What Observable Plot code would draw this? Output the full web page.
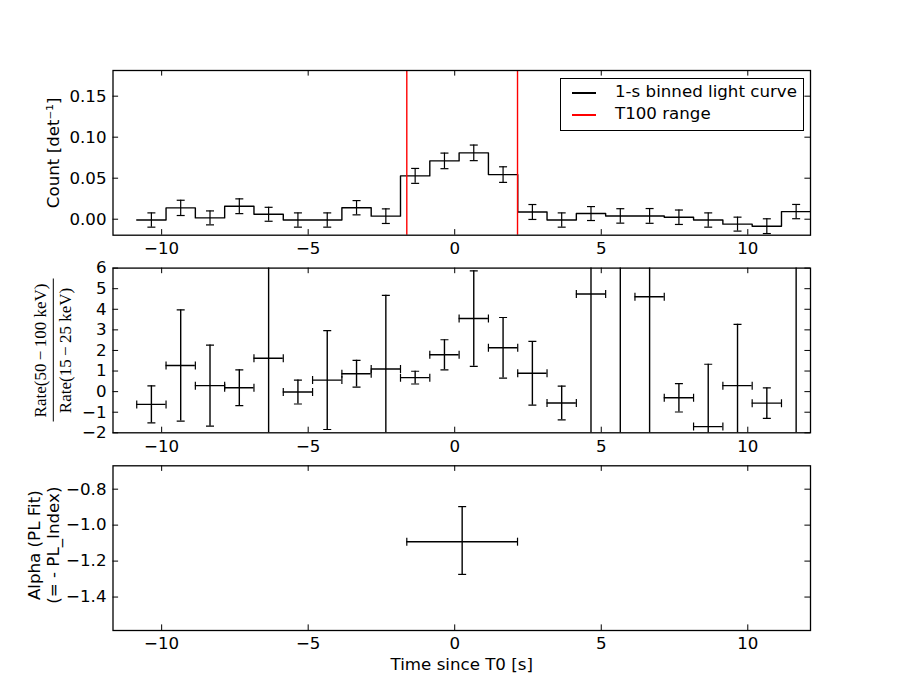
<!DOCTYPE html>
<html><head><meta charset="utf-8">
<script src="https://cdn.jsdelivr.net/npm/d3@7"></script>
<script src="https://cdn.jsdelivr.net/npm/@observablehq/plot@0.6"></script>
<style>
body{margin:0;background:#fff;}
#wrap{position:relative;width:900px;height:700px;overflow:hidden;background:#fff;}
#wrap svg{position:absolute;left:0;top:0;}
.legend{position:absolute;left:560px;top:78px;width:242px;height:51px;border:1px solid #000;background:#fff;font-family:"DejaVu Sans";font-size:16.67px;}
.legend .ln{position:absolute;left:11px;width:24px;height:1.5px;}
.legend .tx{position:absolute;left:54px;line-height:20px;white-space:nowrap;}
</style></head><body><div id="wrap"></div>
<script>
// ---- data ----
const binCenter = [-10.35, -9.35, -8.35, -7.35, -6.35, -5.35, -4.35, -3.35, -2.35, -1.35, -0.35, 0.65,
                   1.65, 2.65, 3.65, 4.65, 5.65, 6.65, 7.65, 8.65, 9.65, 10.65, 11.65];
const binWidth = 1;
const countRate = [-0.001, 0.0138, 0.0016, 0.0158, 0.006, -0.001, -0.001, 0.014, 0.0037, 0.0528, 0.0711, 0.0809,
                   0.0544, 0.0088, -0.001, 0.0069, 0.004, 0.004, 0.0024, -0.001, -0.006, -0.0085, 0.0093];
const countErr = [0.0087, 0.0093, 0.0085, 0.0090, 0.0085, 0.0087, 0.0087, 0.0087, 0.0089, 0.0091, 0.0095, 0.0095,
                  0.0095, 0.0091, 0.0087, 0.0085, 0.0088, 0.0090, 0.0088, 0.0087, 0.0085, 0.0090, 0.0087];
const hardRatio = [-0.62, 1.27, 0.29, 0.19, 1.62, -0.02, 0.56, 0.87, 1.10, 0.68, 1.79, 3.55,
                   2.13, 0.89, -0.55, 4.74, 9.0, 4.61, -0.30, -1.70, 0.29, -0.56, -4.5];
const hardErr = [0.90, 2.70, 1.97, 0.87, 6.5, 0.58, 2.40, 0.65, 3.58, 0.31, 0.73, 2.32,
                 1.47, 1.55, 0.82, 8.0, 12.0, 8.0, 0.69, 3.03, 2.98, 0.74, 16.0];
const t100 = [-1.635, 2.143];
const alphaT = [0.254];
const alphaVal = [-1.092];
const alphaLo = [-1.274];
const alphaHi = [-0.897];
const xDomain = [-11.66, 12.14];
const xTicks = [-10, -5, 0, 5, 10];
const countTicks = [0, 0.05, 0.10, 0.15];
const hrTicks = [-2, -1, 0, 1, 2, 3, 4, 5, 6];
const alphaTicks = [-1.4, -1.2, -1.0, -0.8];

// ---- layout ----
const W = 900, H = 700, ML = 112.5, MR = 90;
const FW = W - ML - MR;
const PH = 164.7;
const tops = [70, 267.6, 465.3];
const TL = 5.6; // inward tick length
const fs = "16.67px";
const idx = binCenter.map((_, i) => i);

const hCap = {draw(ctx, size) { const r = Math.sqrt(size / Math.PI); ctx.moveTo(-r, 0); ctx.lineTo(r, 0); }};
const vCap = {draw(ctx, size) { const r = Math.sqrt(size / Math.PI); ctx.moveTo(0, -r); ctx.lineTo(0, r); }};

function tickMarks(yt) {
  return [
    Plot.ruleY(yt, {y: d => d, insetRight: FW - TL, stroke: "black", strokeWidth: 1}),
    Plot.ruleY(yt, {y: d => d, insetLeft: FW - TL, stroke: "black", strokeWidth: 1}),
    Plot.ruleX(xTicks, {x: d => d, insetTop: PH - TL, stroke: "black", strokeWidth: 1}),
    Plot.ruleX(xTicks, {x: d => d, insetBottom: PH - TL, stroke: "black", strokeWidth: 1})
  ];
}

function panel(k, yDomain, yTicks, yFmt, marks) {
  return Plot.plot({
    width: W, height: H,
    marginLeft: ML, marginRight: MR,
    marginTop: tops[k], marginBottom: H - tops[k] - PH,
    style: {background: "transparent", fontFamily: "DejaVu Sans", fontSize: fs, overflow: "visible", color: "black"},
    x: {domain: xDomain, ticks: xTicks, tickSize: 0, tickPadding: 7, tickFormat: d3.format("d"), label: null},
    y: {domain: yDomain, ticks: yTicks, tickSize: 0, tickPadding: 6.5, tickFormat: yFmt, label: null},
    marks: [...marks, ...tickMarks(yTicks), Plot.frame({stroke: "black", strokeWidth: 1.3})]
  });
}

const ylab = {frameAnchor: "left", textAnchor: "middle", lineAnchor: "middle", rotate: -90, fill: "black"};

// Panel 1: light curve
const stepData = binCenter.flatMap((c, i) => [
  {x: c - binWidth / 2, y: countRate[i]},
  {x: c + binWidth / 2, y: countRate[i]}
]);
const p1 = panel(0, [-0.0195, 0.1813], countTicks, d3.format(".2f"), [
  Plot.line(stepData, {x: "x", y: "y", stroke: "black", strokeWidth: 1.4, clip: true}),
  Plot.ruleX(idx, {x: i => binCenter[i], y1: i => countRate[i] - countErr[i], y2: i => countRate[i] + countErr[i], stroke: "black", strokeWidth: 1.2}),
  Plot.dot(idx, {x: i => binCenter[i], y: i => countRate[i] - countErr[i], symbol: hCap, r: 4, fill: "none", stroke: "black", strokeWidth: 1.2}),
  Plot.dot(idx, {x: i => binCenter[i], y: i => countRate[i] + countErr[i], symbol: hCap, r: 4, fill: "none", stroke: "black", strokeWidth: 1.2}),
  Plot.ruleX(t100, {x: d => d, stroke: "#ff0000", strokeWidth: 1.4}),
  Plot.text(["Count [det⁻¹]"], {...ylab, text: d => d, dx: -59.2})
]);

// Panel 2: hardness ratio
const p2 = panel(1, [-2, 6], hrTicks, d3.format("d"), [
  Plot.ruleY(idx, {y: i => hardRatio[i], x1: i => binCenter[i] - binWidth / 2, x2: i => binCenter[i] + binWidth / 2, stroke: "black", strokeWidth: 1.4, clip: true}),
  Plot.ruleX(idx, {x: i => binCenter[i], y1: i => hardRatio[i] - hardErr[i], y2: i => hardRatio[i] + hardErr[i], stroke: "black", strokeWidth: 1.4, clip: true}),
  Plot.dot(idx, {x: i => binCenter[i], y: i => hardRatio[i] - hardErr[i], symbol: hCap, r: 4, fill: "none", stroke: "black", strokeWidth: 1.2, clip: true}),
  Plot.dot(idx, {x: i => binCenter[i], y: i => hardRatio[i] + hardErr[i], symbol: hCap, r: 4, fill: "none", stroke: "black", strokeWidth: 1.2, clip: true}),
  Plot.dot(idx, {x: i => binCenter[i] - binWidth / 2, y: i => hardRatio[i], symbol: vCap, r: 4, fill: "none", stroke: "black", strokeWidth: 1.2, clip: true}),
  Plot.dot(idx, {x: i => binCenter[i] + binWidth / 2, y: i => hardRatio[i], symbol: vCap, r: 4, fill: "none", stroke: "black", strokeWidth: 1.2, clip: true}),
  Plot.text(["Rate(50\u2009−\u2009100 keV)"], {...ylab, text: d => d, dx: -72.5, fontFamily: "Liberation Serif", fontSize: 17}),
  Plot.text(["Rate(15\u2009−\u200925 keV)"], {...ylab, text: d => d, dx: -47, fontFamily: "Liberation Serif", fontSize: 17})
]);
d3.select(p2).append("line")
  .attr("x1", 53.3).attr("x2", 53.3).attr("y1", 278.5).attr("y2", 421.5)
  .attr("stroke", "black").attr("stroke-width", 1);

// Panel 3: PL index
const p3 = panel(2, [-1.586, -0.67], alphaTicks, d3.format(".1f"), [
  Plot.ruleY(alphaT, {y: (d, i) => alphaVal[i], x1: t100[0], x2: t100[1], stroke: "black", strokeWidth: 1.4}),
  Plot.ruleX(alphaT, {x: d => d, y1: (d, i) => alphaLo[i], y2: (d, i) => alphaHi[i], stroke: "black", strokeWidth: 1.4}),
  Plot.dot(alphaT, {x: d => d, y: (d, i) => alphaLo[i], symbol: hCap, r: 4, fill: "none", stroke: "black", strokeWidth: 1.2}),
  Plot.dot(alphaT, {x: d => d, y: (d, i) => alphaHi[i], symbol: hCap, r: 4, fill: "none", stroke: "black", strokeWidth: 1.2}),
  Plot.dot(t100, {x: d => d, y: alphaVal[0], symbol: vCap, r: 4, fill: "none", stroke: "black", strokeWidth: 1.2}),
  Plot.text(["Alpha (PL Fit)"], {...ylab, text: d => d, dx: -78, dy: -3}),
  Plot.text(["(= - PL_Index)"], {...ylab, text: d => d, dx: -59.5, dy: -3}),
  Plot.text(["Time since T0 [s]"], {text: d => d, frameAnchor: "bottom", lineAnchor: "middle", textAnchor: "middle", dy: 34, fill: "black"})
]);

const wrap = document.getElementById("wrap");
wrap.append(p1, p2, p3);

// legend
const lg = document.createElement("div");
lg.className = "legend";
lg.innerHTML = `
  <div class="ln" style="top:13px;background:#000"></div>
  <div class="tx" style="top:3px">1-s binned light curve</div>
  <div class="ln" style="top:35px;background:#ff0000"></div>
  <div class="tx" style="top:25px">T100 range</div>`;
wrap.append(lg);
</script></body></html>
